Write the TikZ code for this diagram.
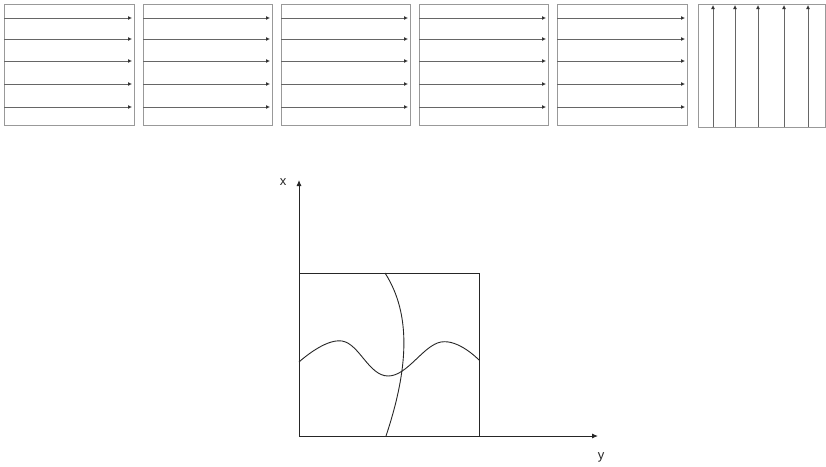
\documentclass[tikz,border=0pt]{standalone}
\usepackage{fontspec}
\setmainfont{Liberation Sans}
\usetikzlibrary{arrows.meta}
\begin{document}
\begin{tikzpicture}[x=1pt,y=-1pt,
  frame/.style={draw=black!40,line width=1pt},
  flow/.style={draw=black!60,line width=0.9pt,-{Latex[length=4pt,width=4pt,color=black!80]}},
  axis/.style={draw=black!85,line width=0.9pt,-{Latex[length=6pt,width=5pt]}},
  curve/.style={draw=black!85,line width=0.9pt},
  lab/.style={font=\fontsize{13}{15}\selectfont,text=black!85}]
\useasboundingbox (0,0) rectangle (826,466);
% five horizontal-flow boxes
\foreach \l/\r in {4/134,143/272,281/410,419/548,557/687}{
  \draw[frame] (\l,4) rectangle (\r,125);
  \foreach \yy in {18,39,61,84,107}{
    \draw[flow] (\l,\yy) -- (\r-2,\yy);
  }
}
% vertical-flow box
\draw[frame] (698,4) rectangle (825,127);
\foreach \xx in {713,735,758,784,808}{
  \draw[flow] (\xx,127) -- (\xx,5);
}
% axes
\coordinate (o) at (299,436);
\coordinate (xt) at (299,180);
\coordinate (yt) at (598,436);
\draw[axis] (o) -- (xt);
\draw[axis] (o) -- (yt);
\node[lab] (xl) at (283,182) {x};
\node[lab] (yl) at (601,457) {y};
% square
\draw[curve] (299,273) rectangle (479,436);
% curves
\draw[curve] plot[smooth,tension=0.7] coordinates {(299,362) (342,341) (388,376) (441,342) (479,360)};
\draw[curve] (385,273) .. controls (412,315) and (408,370) .. (386,436);
\end{tikzpicture}
\end{document}
